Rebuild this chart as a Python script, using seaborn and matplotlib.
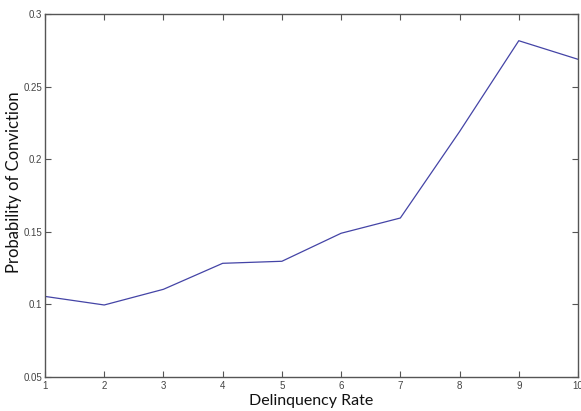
import matplotlib
matplotlib.use("Agg")
import matplotlib.pyplot as plt
import seaborn as sns
import pandas as pd

delinquency_rate = [1, 2, 3, 4, 5, 6, 7, 8, 9, 10]
prob_conviction = [0.1055, 0.0996, 0.1104, 0.1283, 0.1297, 0.149, 0.1595, 0.219, 0.2816, 0.2688]
x_ticks = [1, 2, 3, 4, 5, 6, 7, 8, 9, 10]
y_ticks = [0.05, 0.1, 0.15, 0.2, 0.25, 0.3]
y_tick_labels = ["0.05", "0.1", "0.15", "0.2", "0.25", "0.3"]

df = pd.DataFrame({"x": delinquency_rate, "y": prob_conviction})

sns.set_style("white")
plt.rcParams["font.family"] = ["Liberation Sans", "DejaVu Sans"]

fig = plt.figure(figsize=(5.81, 4.11), dpi=100)
ax = fig.add_axes([45 / 581, 1 - 377 / 411, (578 - 45) / 581, (377 - 14) / 411])

sns.lineplot(data=df, x="x", y="y", ax=ax, color="#4444a6", linewidth=0.9)

ax.set_xlim(1, 10)
ax.set_ylim(0.05, 0.3)
ax.set_xticks(x_ticks)
ax.set_xticklabels([str(t) for t in x_ticks])
ax.set_yticks(y_ticks)
ax.set_yticklabels(y_tick_labels)

for s in ax.spines.values():
    s.set_color("#555555")
    s.set_linewidth(1.0)

ax.tick_params(axis="both", which="both", direction="in", length=4, width=0.8,
               color="#555555", labelcolor="#444444", labelsize=7,
               top=True, right=True, bottom=True, left=True)
ax.tick_params(axis="x", pad=3)
ax.tick_params(axis="y", pad=2)

ax.set_xlabel("Delinquency Rate", fontsize=11.5, family=["Lato", "DejaVu Sans"], color="#111111", labelpad=2)
ax.set_ylabel("Probability of Conviction", fontsize=12, family=["Lato", "DejaVu Sans"], color="#111111")
ax.yaxis.set_label_coords(-0.043, 0.536)

fig.savefig("out.png", dpi=100)
